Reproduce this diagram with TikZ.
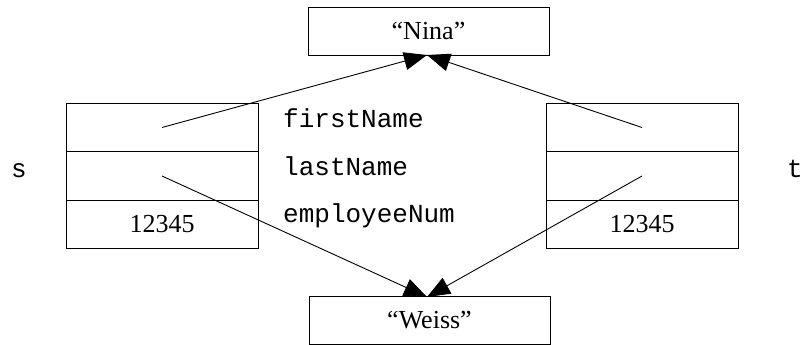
\documentclass[tikz,border=0pt]{standalone}
\usepackage{fontspec}
\setmainfont{Liberation Serif}
\setmonofont{Liberation Mono}
\usetikzlibrary{arrows.meta}
\begin{document}
\begin{tikzpicture}[x=1pt,y=-1pt,
  box/.style={draw,line width=0.9pt,inner sep=0pt,minimum width=241pt,minimum height=48pt,font=\fontsize{26}{26}\selectfont},
  cell/.style={draw,line width=0.9pt,inner sep=0pt,minimum width=192pt,minimum height=48.5pt,font=\fontsize{26}{26}\selectfont},
  lbl/.style={inner sep=0pt,anchor=base west,font=\ttfamily\fontsize{26}{26}\selectfont},
  ptr/.style={line width=0.9pt,-{Triangle[length=23pt,width=18pt]}}]
\useasboundingbox (0,0) rectangle (805,345);
\node[box] (nina) at (428.5,31) {“Nina”};
\node[box] (weiss) at (429.5,320.5) {“Weiss”};
\node[cell] (s1) at (162,127.5) {};
\node[cell] (s2) at (162,176) {};
\node[cell] (s3) at (162,224.5) {12345};
\node[cell] (t1) at (642,127.5) {};
\node[cell] (t2) at (642,176) {};
\node[cell] (t3) at (642,224.5) {\raisebox{-2pt}{12345}};
\node[lbl] (ls) at (11,177) {s};
\node[lbl] (lt) at (787,177) {t};
\node[lbl] (fn) at (283,127) {firstName};
\node[lbl] (ln) at (283,175) {lastName};
\node[lbl] (en) at (283,222) {employeeNum};
\coordinate (nt) at (427,55);
\coordinate (wt) at (427,297);
\draw[ptr] (s1.center) -- (nt);
\draw[ptr] (t1.center) -- (nt);
\draw[ptr] (s2.center) -- (wt);
\draw[ptr] (t2.center) -- (wt);
\end{tikzpicture}
\end{document}
